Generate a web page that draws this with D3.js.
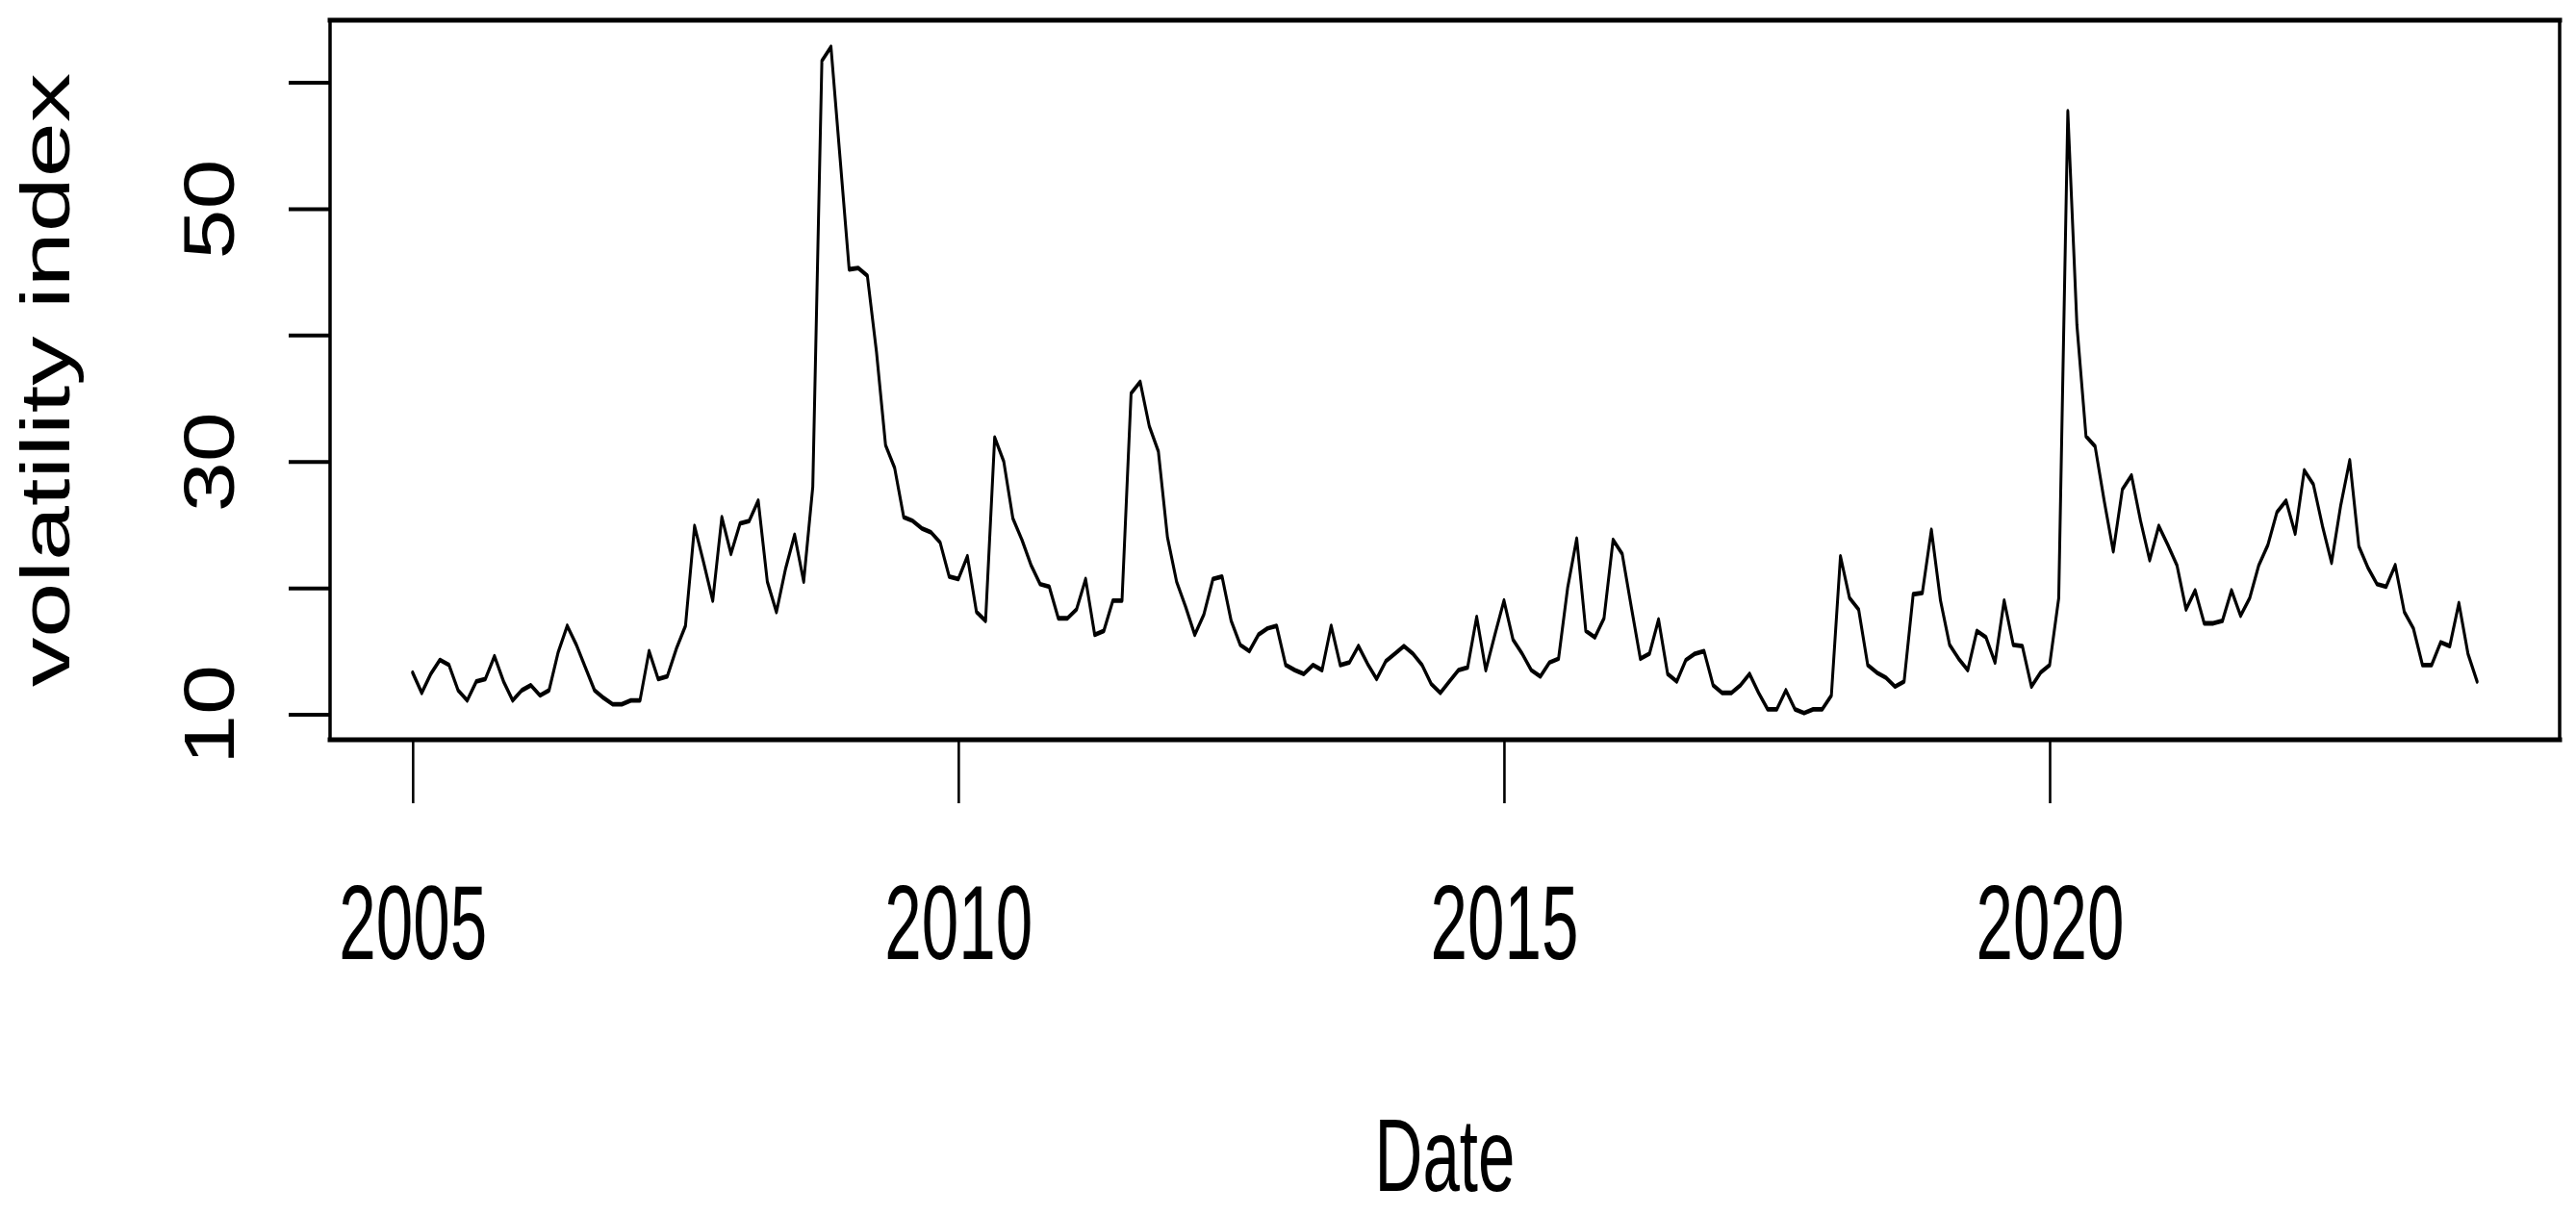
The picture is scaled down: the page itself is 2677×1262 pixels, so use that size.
<!DOCTYPE html>
<html>
<head>
<meta charset="utf-8">
<script src="https://cdn.jsdelivr.net/npm/d3@7"></script>
<style>
  html, body { margin: 0; padding: 0; background: #fff; overflow: hidden; }
  text { font-family: "Liberation Sans", Arial, sans-serif; fill: #000; }
</style>
</head>
<body>
<svg id="chart" width="2677" height="1262"></svg>
<script>
// ---- data: monthly volatility index, Jan 2005 .. Dec 2023 ----
const startYear = 2005;
const vix2005 = [13.3, 11.7, 13.2, 14.3, 13.9, 11.9, 11.1, 12.6, 12.8, 14.6, 12.6, 11.1];
const vix2006 = [11.9, 12.3, 11.5, 11.9, 14.9, 17.0, 15.5, 13.7, 11.9, 11.3, 10.8, 10.8];
const vix2007 = [11.1, 11.1, 15.0, 12.8, 13.0, 15.2, 17.0, 24.9, 22.0, 19.0, 25.6, 22.7];
const vix2008 = [25.1, 25.3, 26.9, 20.5, 18.1, 21.5, 24.2, 20.5, 28.0, 61.7, 62.8, 54.0];
const vix2009 = [45.2, 45.3, 44.7, 38.7, 31.3, 29.5, 25.6, 25.3, 24.7, 24.4, 23.6, 20.9];
const vix2010 = [20.7, 22.5, 18.1, 17.4, 31.9, 30.0, 25.5, 23.8, 21.8, 20.3, 20.1, 17.6];
const vix2011 = [17.6, 18.3, 20.7, 16.3, 16.6, 19.0, 19.0, 35.4, 36.3, 32.8, 30.8, 24.0];
const vix2012 = [20.5, 18.5, 16.3, 17.9, 20.7, 20.9, 17.4, 15.5, 15.0, 16.3, 16.8, 17.0];
const vix2013 = [13.9, 13.5, 13.2, 13.9, 13.5, 17.0, 13.9, 14.1, 15.4, 14.0, 12.8, 14.2];
const vix2014 = [14.8, 15.4, 14.8, 13.9, 12.4, 11.7, 12.6, 13.5, 13.7, 17.7, 13.5, 16.3];
const vix2015 = [19.0, 15.9, 14.8, 13.5, 13.0, 14.1, 14.4, 20.0, 23.9, 16.6, 16.1, 17.6];
const vix2016 = [23.8, 22.7, 18.5, 14.4, 14.8, 17.5, 13.2, 12.6, 14.3, 14.8, 15.0, 12.3];
const vix2017 = [11.7, 11.7, 12.3, 13.2, 11.7, 10.4, 10.4, 11.9, 10.4, 10.1, 10.4, 10.4];
const vix2018 = [11.5, 22.5, 19.2, 18.3, 13.9, 13.3, 12.9, 12.2, 12.6, 19.5, 19.6, 24.6];
const vix2019 = [19.0, 15.5, 14.4, 13.5, 16.6, 16.1, 14.1, 19.0, 15.5, 15.4, 12.2, 13.3];
const vix2020 = [13.9, 19.2, 57.7, 40.8, 32.0, 31.2, 26.9, 22.9, 27.8, 28.9, 25.3, 22.2];
const vix2021 = [24.9, 23.4, 21.8, 18.3, 19.8, 17.2, 17.2, 17.4, 19.8, 17.8, 19.2, 21.8];
const vix2022 = [23.4, 26.0, 26.9, 24.3, 29.3, 28.2, 24.9, 22.0, 26.5, 30.1, 23.3, 21.6];
const vix2023 = [20.3, 20.1, 21.8, 18.1, 16.8, 13.9, 13.9, 15.7, 15.4, 18.8, 14.8, 12.6];

const xTickValues = [2005, 2010, 2015, 2020];
const yTickValues = [10, 20, 30, 40, 50, 60];
const yTickLabels = ["10", "", "30", "", "50", ""];
const xTitle = "Date";
const yTitle = "volatility index";

// ---- build series ----
const series = [].concat(vix2005, vix2006, vix2007, vix2008, vix2009, vix2010, vix2011,
  vix2012, vix2013, vix2014, vix2015, vix2016, vix2017, vix2018, vix2019, vix2020,
  vix2021, vix2022, vix2023);
const data = series.map((v, i) => ({ t: startYear + i / 12, v: v }));

// ---- layout ----
const box = { left: 343, right: 2660, top: 21, bottom: 769 };
const k = 1.6; // vertical stretch of the original raster

const svg = d3.select("#chart");

const tExt = d3.extent(data, d => d.t);
const vExt = d3.extent(data, d => d.v);
const tPad = (tExt[1] - tExt[0]) * 0.04;
const vPad = (vExt[1] - vExt[0]) * 0.04;

const x = d3.scaleLinear().domain([tExt[0] - tPad, tExt[1] + tPad]).range([box.left, box.right]);
const y = d3.scaleLinear().domain([vExt[0] - vPad, vExt[1] + vPad]).range([box.bottom, box.top]);

// ---- line (drawn in a vertically stretched group so horizontal strokes are thicker) ----
const line = d3.line().x(d => x(d.t)).y(d => y(d.v) / k);
svg.append("g")
  .attr("transform", `scale(1,${k})`)
  .append("path")
  .datum(data)
  .attr("d", line)
  .attr("fill", "none")
  .attr("stroke", "#000")
  .attr("stroke-width", 3)
  .attr("stroke-linejoin", "round")
  .attr("stroke-linecap", "round");

// ---- x axis ----
const xAxis = d3.axisBottom(x).tickValues(xTickValues).tickSize(66).tickFormat(d3.format("d"));
const gx = svg.append("g").attr("transform", `translate(0,${box.bottom})`).call(xAxis);
gx.select(".domain").remove();
gx.selectAll(".tick line").attr("stroke", "#000").attr("stroke-width", 2.6);
gx.selectAll(".tick text")
  .attr("y", 997 - box.bottom)
  .attr("dy", null)
  .attr("x", -77)
  .attr("text-anchor", "start")
  .attr("font-size", 110)
  .attr("textLength", 154)
  .attr("lengthAdjust", "spacingAndGlyphs")
  .attr("fill", "#000")
  .style("font-family", "'Liberation Sans', Arial, sans-serif");

// ---- y axis ----
const yAxis = d3.axisLeft(y).tickValues(yTickValues).tickSize(43).tickFormat((d, i) => yTickLabels[i]);
const gy = svg.append("g").attr("transform", `translate(${box.left},0)`).call(yAxis);
gy.select(".domain").remove();
gy.selectAll(".tick line").attr("stroke", "#000").attr("stroke-width", 4);
gy.selectAll(".tick text")
  .attr("x", -52)
  .attr("y", 0)
  .attr("dy", null)
  .attr("text-anchor", "start")
  .attr("transform", `translate(${243 - box.left},0) rotate(-90)`)
  .attr("font-size", 75)
  .attr("textLength", 104)
  .attr("lengthAdjust", "spacingAndGlyphs")
  .attr("fill", "#000")
  .style("font-family", "'Liberation Sans', Arial, sans-serif");

// ---- box ----
const frame = svg.append("g").attr("stroke", "#000").attr("stroke-linecap", "square");
frame.append("line").attr("x1", box.left).attr("x2", box.right).attr("y1", box.top).attr("y2", box.top).attr("stroke-width", 5);
frame.append("line").attr("x1", box.left).attr("x2", box.right).attr("y1", box.bottom).attr("y2", box.bottom).attr("stroke-width", 5);
frame.append("line").attr("x1", box.left).attr("x2", box.left).attr("y1", box.top).attr("y2", box.bottom).attr("stroke-width", 3.5);
frame.append("line").attr("x1", box.right).attr("x2", box.right).attr("y1", box.top).attr("y2", box.bottom).attr("stroke-width", 3.5);

// ---- titles ----
svg.append("text")
  .attr("x", (box.left + box.right) / 2 - 73)
  .attr("y", 1238)
  .attr("font-size", 107)
  .attr("textLength", 146)
  .attr("lengthAdjust", "spacingAndGlyphs")
  .text(xTitle);

svg.append("text")
  .attr("transform", `translate(72,${(box.top + box.bottom) / 2}) rotate(-90)`)
  .attr("x", -319)
  .attr("y", 0)
  .attr("font-size", 72)
  .attr("textLength", 638)
  .attr("lengthAdjust", "spacingAndGlyphs")
  .text(yTitle);
</script>
</body>
</html>
